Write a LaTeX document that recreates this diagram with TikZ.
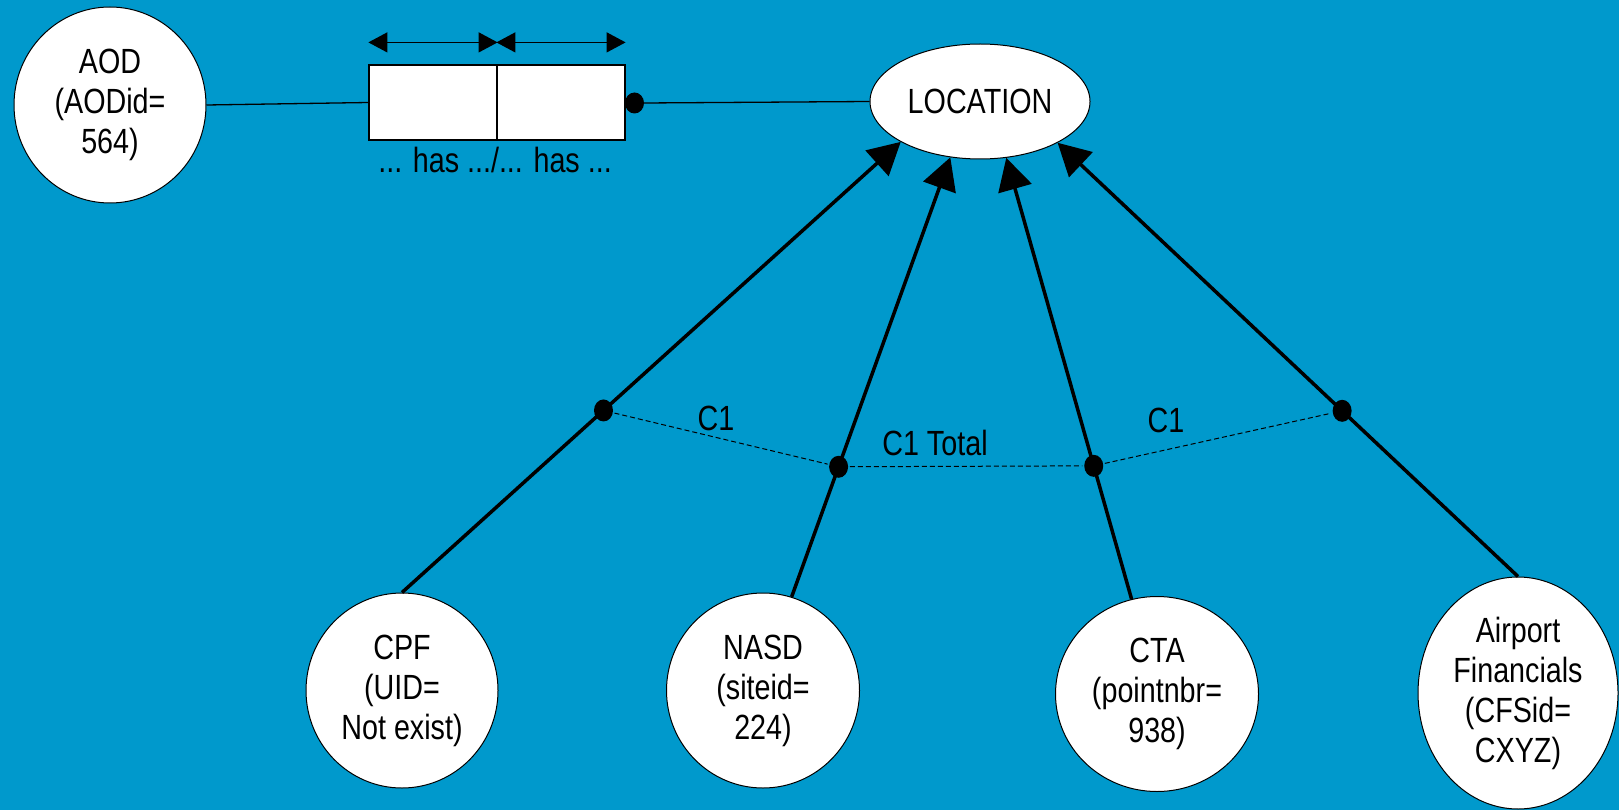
\documentclass[tikz,border=0pt]{standalone}
\usepackage{fontspec}
\setmainfont{Liberation Sans}[FakeStretch=0.82]
\usetikzlibrary{shapes.geometric,arrows.meta}
\definecolor{bgblue}{RGB}{0,153,204}
\begin{document}
\begin{tikzpicture}[x=1pt,y=-1pt,
  ent/.style={ellipse, draw=black, line width=1pt, fill=white, inner sep=0pt,
              align=center, font=\fontsize{35}{40}\selectfont},
  rel/.style={line width=3.5pt, -{Triangle[length=32pt,width=34pt]}},
  jdot/.style={ellipse, fill=black, inner sep=0pt, minimum width=19pt, minimum height=22pt},
  lbl/.style={font=\fontsize{35}{40}\selectfont, inner sep=0pt},
  hbox/.style={rectangle, draw=black, line width=1.2pt, fill=white,
               minimum width=128pt, minimum height=75pt, inner sep=0pt},
  constr/.style={line width=1pt, dash pattern=on 5pt off 3pt},
  thinline/.style={line width=1.3pt},
  dimarrow/.style={line width=1.3pt,
     {Triangle[length=19pt,width=20pt]}-{Triangle[length=19pt,width=20pt]}}
]
\fill[bgblue] (0,0) rectangle (1619,810);
\useasboundingbox (0,0) rectangle (1619,810);

% entities
\node[ent, minimum width=192pt, minimum height=196pt] (aod) at (110,105) {AOD\\(AODid=\\564)};
\node[ent, minimum width=220pt, minimum height=115pt] (loc) at (980,101.5) {LOCATION};
\node[ent, minimum width=192pt, minimum height=195pt] (cpf) at (402,690.5) {CPF\\(UID=\\Not exist)};
\node[ent, minimum width=193pt, minimum height=195pt] (nasd) at (763,690.5) {NASD\\(siteid=\\224)};
\node[ent, minimum width=203pt, minimum height=195pt] (cta) at (1157,694) {CTA\\(pointnbr=\\938)};
\node[ent, minimum width=200pt, minimum height=232pt] (apf) at (1518,693) {Airport\\Financials\\(CFSid=\\CXYZ)};

% relationship box
\node[hbox] (boxL) at (433,102.5) {};
\node[hbox] (boxR) at (561,102.5) {};
\node[lbl] (haslbl) at (495,160) {... has .../... has ...};
\node[jdot, minimum height=21pt] (bdot) at (634.5,103) {};

\draw[thinline] (aod.east) -- (boxL.west);
\draw[thinline] (bdot.east) -- (loc.west);
\draw[dimarrow] ([yshift=22pt]boxL.north west) -- ([yshift=22pt]boxL.north east);
\draw[dimarrow] ([yshift=22pt]boxR.north west) -- ([yshift=22pt]boxR.north east);

% subtype connectors
\draw[rel] (cpf.north) -- node[jdot, pos=0.404] (d1) {} (loc.207.4);
\draw[rel] (nasd.73.9) -- node[jdot, pos=0.296] (d2) {} (loc.242.8);
\draw[rel] (cta.105.6) -- node[jdot, pos=0.302] (d3) {} (loc.295.5);
\draw[rel] (apf.north) -- node[jdot, pos=0.382] (d4) {} (loc.332.3);

% constraint lines
\draw[constr] (d1) -- (d2);
\draw[constr] (d2) -- (d3);
\draw[constr] (d3) -- (d4);

\node[lbl] (c1a) at (716,418) {C1};
\node[lbl] (c1t) at (935,443) {C1 Total};
\node[lbl] (c1b) at (1166,420) {C1};
\end{tikzpicture}
\end{document}
